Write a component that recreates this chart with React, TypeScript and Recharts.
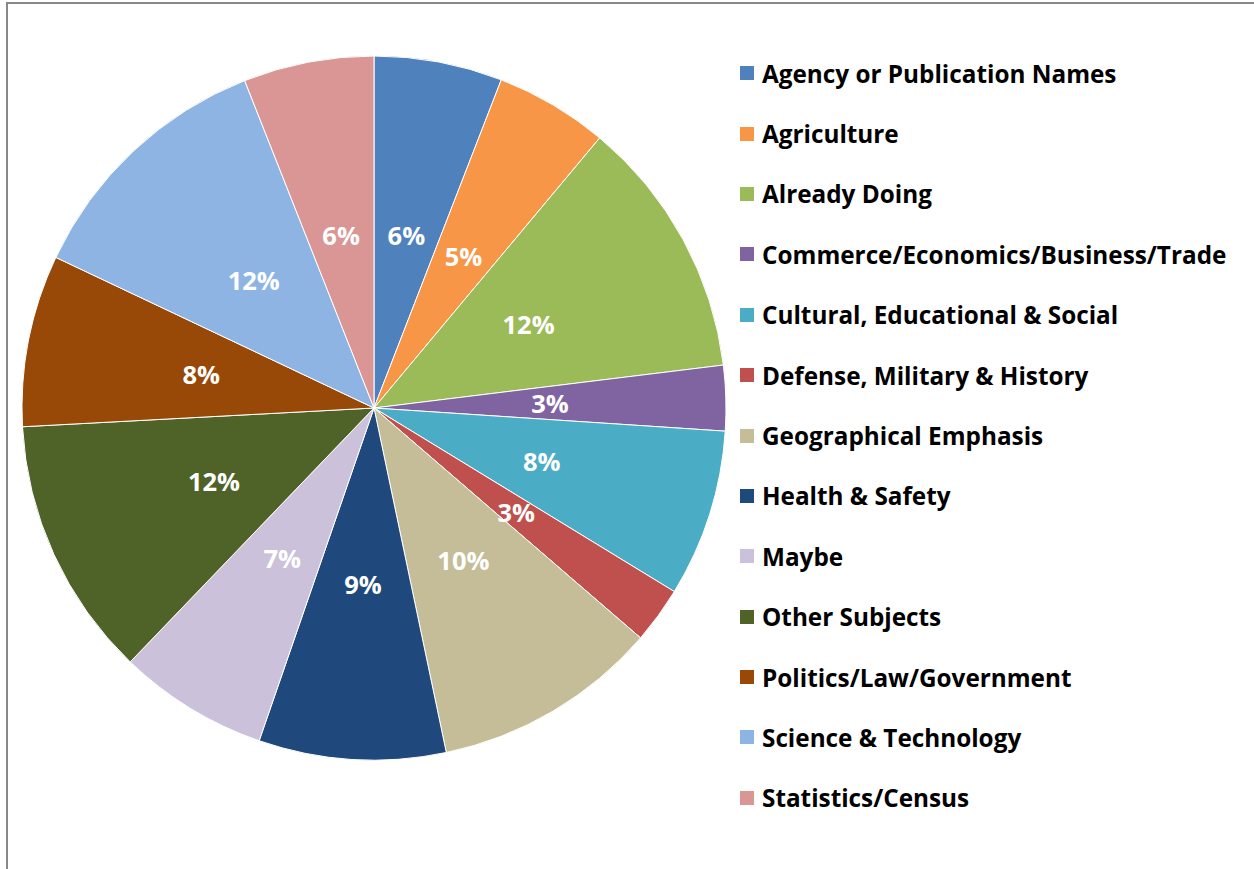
import { PieChart, Pie, Cell } from 'recharts'

const categories = [
  'Agency or Publication Names',
  'Agriculture',
  'Already Doing',
  'Commerce/Economics/Business/Trade',
  'Cultural, Educational & Social',
  'Defense, Military & History',
  'Geographical Emphasis',
  'Health & Safety',
  'Maybe',
  'Other Subjects',
  'Politics/Law/Government',
  'Science & Technology',
  'Statistics/Census',
]

const shares = [5.9, 5.2, 12.0, 3.0, 7.7, 2.6, 10.4, 8.6, 6.9, 12.0, 7.9, 12.0, 6.0]

const colors = [
  '#4F81BD', '#F79646', '#9BBB59', '#8064A2', '#4BACC6', '#C0504D', '#C4BD97',
  '#1F497D', '#CCC1DA', '#4F6228', '#984807', '#8EB4E3', '#D99694',
]

const data = categories.map((name, i) => ({ name, value: shares[i] }))

const FONT = '"Open Sans", Lato, sans-serif'
const RADIAN = Math.PI / 180

const renderLabel = (props: any) => {
  const { cx, cy, midAngle, outerRadius, percent } = props
  const r = outerRadius * 0.5
  const x = cx + r * Math.cos(-midAngle * RADIAN)
  const y = cy + r * Math.sin(-midAngle * RADIAN)
  return (
    <text x={x} y={y} fill="#fff" textAnchor="middle" dominantBaseline="central"
      fontFamily={FONT} fontWeight={700} fontSize={25.5}>
      {Math.round(percent * 100)}%
    </text>
  )
}

export default function App() {
  return (
    <div style={{ position: 'absolute', left: 0, top: 0, width: 1254, height: 869, overflow: 'hidden', background: '#fff' }}>
      <div style={{ position: 'absolute', left: 6, top: 2, width: 1400, height: 1000, border: '2px solid #888' }} />
      <div style={{ position: 'absolute', left: 0, top: 0 }}>
        <PieChart width={740} height={869} margin={{ top: 0, right: 0, bottom: 0, left: 0 }}>
          <Pie
            data={data}
            dataKey="value"
            nameKey="name"
            cx={374}
            cy={408}
            outerRadius={352}
            startAngle={90}
            endAngle={-270}
            stroke="#fff"
            strokeWidth={1}
            label={renderLabel}
            labelLine={false}
            isAnimationActive={false}
          >
            {data.map((d, i) => (
              <Cell key={d.name} fill={colors[i]} />
            ))}
          </Pie>
        </PieChart>
      </div>
      {/* legend */}
      <div style={{ position: 'absolute', left: 740, top: 43, fontFamily: FONT }}>
        {categories.map((name, i) => (
          <div key={name} style={{ display: 'flex', alignItems: 'center', height: 60.4 }}>
            <span style={{ width: 14, height: 14, background: colors[i], marginRight: 8 }} />
            <span style={{ fontSize: 24.3, fontWeight: 700, color: '#000', whiteSpace: 'nowrap' }}>{name}</span>
          </div>
        ))}
      </div>
    </div>
  )
}
